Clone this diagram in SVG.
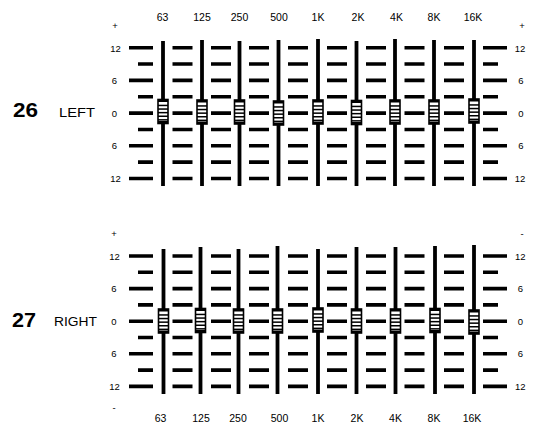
<svg xmlns="http://www.w3.org/2000/svg" xmlns:xlink="http://www.w3.org/1999/xlink" width="535" height="433" viewBox="0 0 535 433">
<style>
  .bg{fill:#fff}
  .dash{fill:none;stroke:#000;stroke-width:3.6}
  .rail{stroke:#000;stroke-width:3.8;stroke-linecap:butt}
  .t{font-family:"Liberation Sans",Arial,sans-serif;fill:#000}
  .col{font-size:10.5px;text-anchor:middle}
  .lev{font-size:9.5px;text-anchor:middle}
  .big{font-size:20px;font-weight:bold}
  .ch{font-size:12px}
</style>
<defs>
  <path id="major" class="dash" d="M129 0H153M172.5 0H192.5M211 0H231M249 0H269M288 0H308M327 0H347M366 0H386M404.5 0H424.5M444 0H464M483 0H507"/>
  <path id="minor" class="dash" d="M138 0H153M172.5 0H192.5M211 0H231M249 0H269M288 0H308M327 0H347M366 0H386M404.5 0H424.5M444 0H464M483 0H498"/>
  <g id="knob">
    <rect x="-5" y="-12" width="10" height="24" fill="#fff" stroke="#000" stroke-width="1.6"/>
    <rect x="-5" y="-12" width="10" height="2.5" fill="#000"/>
    <rect x="-5" y="-6.8" width="10" height="1.5" fill="#000"/>
    <rect x="-5" y="-3.2" width="10" height="1.5" fill="#000"/>
    <rect x="-5" y="0.4" width="10" height="1.5" fill="#000"/>
    <rect x="-5" y="4" width="10" height="1.5" fill="#000"/>
    <rect x="-5" y="7.6" width="10" height="1.5" fill="#000"/>
    <rect x="-5" y="9.5" width="10" height="2.5" fill="#000"/>
  </g>
</defs>
<rect class="bg" x="0" y="0" width="535" height="433"/>

<g id="left-channel">
  <text class="t big" x="13" y="117" textLength="25" lengthAdjust="spacingAndGlyphs">26</text>
  <text class="t ch" x="59" y="117" textLength="36" lengthAdjust="spacingAndGlyphs">LEFT</text>
  <g id="left-freq-labels" class="t col">
    <text x="162.5" y="21">63</text><text x="202" y="21">125</text><text x="239.5" y="21">250</text>
    <text x="279" y="21">500</text><text x="318" y="21">1K</text><text x="358" y="21">2K</text>
    <text x="396.5" y="21">4K</text><text x="434" y="21">8K</text><text x="473" y="21">16K</text>
  </g>
  <g id="left-level-labels" class="t lev">
    <text x="115" y="29">+</text>
    <text x="115.5" y="51.5">12</text><text x="114.5" y="84">6</text><text x="114.5" y="116.5">0</text>
    <text x="114.5" y="149">6</text><text x="115.5" y="182">12</text>
    <text x="522" y="29">+</text>
    <text x="520" y="51.5">12</text><text x="521" y="84">6</text><text x="521" y="116.5">0</text>
    <text x="521" y="149">6</text><text x="520" y="182">12</text>
  </g>
  <g id="left-scale">
    <use xlink:href="#major" y="47.7"/><use xlink:href="#minor" y="64.05"/>
    <use xlink:href="#major" y="80.4"/><use xlink:href="#minor" y="96.75"/>
    <use xlink:href="#major" y="113.1"/><use xlink:href="#minor" y="129.45"/>
    <use xlink:href="#major" y="145.8"/><use xlink:href="#minor" y="162.15"/>
    <use xlink:href="#major" y="178.5"/>
  </g>
  <g id="left-sliders">
    <line class="rail" x1="163" y1="41" x2="163" y2="186"/>
    <line class="rail" x1="202" y1="40" x2="202" y2="186"/>
    <line class="rail" x1="239.5" y1="41" x2="239.5" y2="186"/>
    <line class="rail" x1="278.5" y1="40" x2="278.5" y2="186"/>
    <line class="rail" x1="318" y1="39" x2="318" y2="186"/>
    <line class="rail" x1="356.5" y1="41" x2="356.5" y2="186"/>
    <line class="rail" x1="395" y1="39" x2="395" y2="186"/>
    <line class="rail" x1="434" y1="40" x2="434" y2="186"/>
    <line class="rail" x1="474" y1="40" x2="474" y2="186"/>
    <use xlink:href="#knob" x="163" y="111.5"/>
    <use xlink:href="#knob" x="202" y="112"/>
    <use xlink:href="#knob" x="239.5" y="112"/>
    <use xlink:href="#knob" x="278.5" y="113"/>
    <use xlink:href="#knob" x="318" y="112"/>
    <use xlink:href="#knob" x="356.5" y="112.5"/>
    <use xlink:href="#knob" x="395" y="112"/>
    <use xlink:href="#knob" x="434" y="112"/>
    <use xlink:href="#knob" x="474" y="111"/>
  </g>
</g>

<g id="right-channel">
  <text class="t big" x="12" y="327" textLength="24" lengthAdjust="spacingAndGlyphs">27</text>
  <text class="t ch" x="54" y="326" textLength="43" lengthAdjust="spacingAndGlyphs">RIGHT</text>
  <g id="right-level-labels" class="t lev">
    <text x="114" y="237">+</text>
    <text x="114.5" y="259.5">12</text><text x="114" y="292">6</text><text x="114" y="324.5">0</text>
    <text x="114" y="357">6</text><text x="114.5" y="390">12</text>
    <text x="114" y="411">-</text>
    <text x="522" y="237">-</text>
    <text x="520.3" y="259.5">12</text><text x="520.5" y="292">6</text><text x="520.5" y="324.5">0</text>
    <text x="520.5" y="357">6</text><text x="520.3" y="390">12</text>
  </g>
  <g id="right-scale">
    <use xlink:href="#major" y="256"/><use xlink:href="#minor" y="272.3"/>
    <use xlink:href="#major" y="288.6"/><use xlink:href="#minor" y="304.9"/>
    <use xlink:href="#major" y="321.2"/><use xlink:href="#minor" y="337.5"/>
    <use xlink:href="#major" y="353.8"/><use xlink:href="#minor" y="370.1"/>
    <use xlink:href="#major" y="386.4"/>
  </g>
  <g id="right-sliders">
    <line class="rail" x1="163.5" y1="249" x2="163.5" y2="394"/>
    <line class="rail" x1="200.5" y1="247" x2="200.5" y2="394"/>
    <line class="rail" x1="238.5" y1="249" x2="238.5" y2="394"/>
    <line class="rail" x1="277.5" y1="246" x2="277.5" y2="394"/>
    <line class="rail" x1="318" y1="249" x2="318" y2="394"/>
    <line class="rail" x1="356.5" y1="247" x2="356.5" y2="394"/>
    <line class="rail" x1="395.5" y1="247" x2="395.5" y2="394"/>
    <line class="rail" x1="435" y1="246" x2="435" y2="394"/>
    <line class="rail" x1="474" y1="245" x2="474" y2="394"/>
    <use xlink:href="#knob" x="163.5" y="321"/>
    <use xlink:href="#knob" x="200.5" y="320.5"/>
    <use xlink:href="#knob" x="238.5" y="321"/>
    <use xlink:href="#knob" x="277.5" y="321"/>
    <use xlink:href="#knob" x="318" y="320"/>
    <use xlink:href="#knob" x="356.5" y="321"/>
    <use xlink:href="#knob" x="395.5" y="321"/>
    <use xlink:href="#knob" x="435" y="320.5"/>
    <use xlink:href="#knob" x="474" y="322"/>
  </g>
  <g id="right-freq-labels" class="t col">
    <text x="160.5" y="422">63</text><text x="201" y="422">125</text><text x="238" y="422">250</text>
    <text x="279.5" y="422">500</text><text x="318" y="422">1K</text><text x="357" y="422">2K</text>
    <text x="395.5" y="422">4K</text><text x="434" y="422">8K</text><text x="472" y="422">16K</text>
  </g>
</g>
</svg>
